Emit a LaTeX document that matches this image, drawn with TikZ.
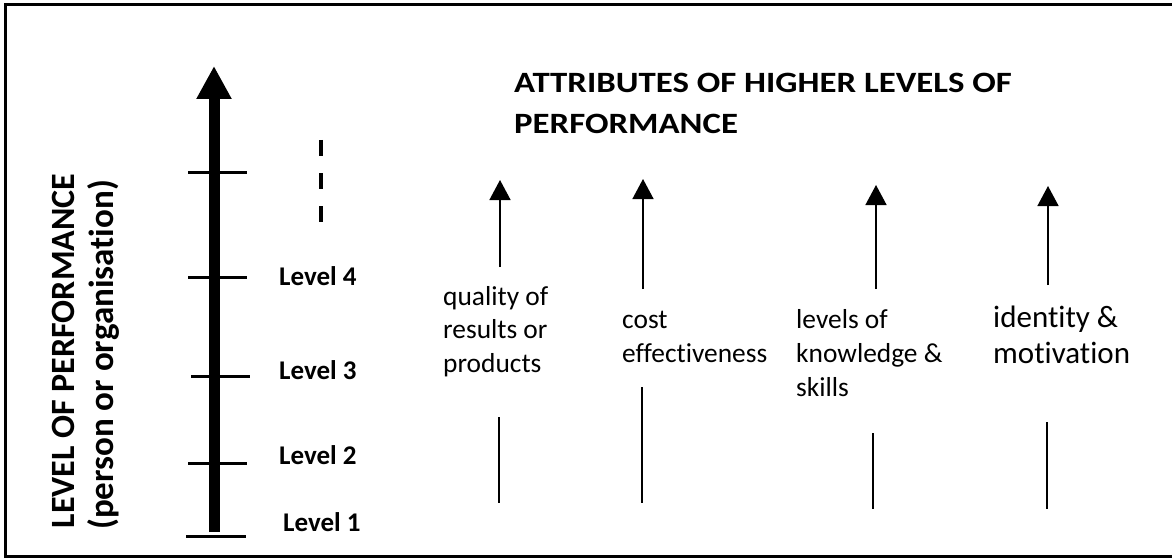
\documentclass[tikz,border=0pt]{standalone}
\usepackage{fontspec}
\setmainfont{Carlito}[Ligatures=NoCommon]
\newfontfamily\titlefont[FakeStretch=1.18]{Carlito}
\usetikzlibrary{arrows.meta}

\begin{document}
\begin{tikzpicture}[x=1pt,y=-1pt,
		levtick/.style={line width=3pt},
		levlabel/.style={font=\fontsize{27}{32}\selectfont\bfseries, inner sep=0pt, anchor=base west},
		attrtext/.style={font=\fontsize{27.4}{34}\selectfont, align=left, inner sep=0pt, anchor=base west},
		attrarrow/.style={line width=1.5pt, -{Triangle[length=20pt,width=21pt]}},
		attrline/.style={line width=1.5pt}]
			%%%%% START %%%%%
			\useasboundingbox (0,0) rectangle (1172,559);
			\def\ax{214}
			\def\tl{188}
			\def\tr{247}
			\def\xone{500}
			\def\xtwo{643}
			\def\xthree{876}
			\def\xfour{1048}

			% frame, open on the right
			\draw[line width=3pt] (1180,5) -- (5,5) -- (5,556) -- (1180,556);

			% vertical scale
			\coordinate (axis bottom) at (\ax,532);
			\coordinate (axis top) at (\ax,66);
			\draw[line width=11pt, -{Triangle[length=33pt,width=33pt]}] (axis bottom) -- (axis top);
			\draw[levtick] (\tl,172) -- (\tr,172);
			\draw[levtick] (\tl,277) -- (\tr,277);
			\draw[levtick] (\tl+3,376) -- (\tr+3,376);
			\draw[levtick] (\tl,463) -- (\tr,463);
			\draw[levtick] (\tl-2,536) -- (\tr-1,536);
			\node[levlabel] (level4) at (279,285) {Level 4};
			\node[levlabel] (level3) at (279,379) {Level 3};
			\node[levlabel] (level2) at (279,464) {Level 2};
			\node[levlabel] (level1) at (283,531) {Level 1};
			\draw[line width=4pt, dash pattern=on 16pt off 17pt] (321,140) -- (321,222);

			\node[rotate=90, anchor=base, inner sep=0pt, font=\fontsize{34}{40}\selectfont\bfseries] (axislabel) at (74,351) {LEVEL OF PERFORMANCE};
			\node[rotate=90, anchor=base, inner sep=0pt, font=\fontsize{35}{40}\selectfont\bfseries] (axissub) at (113,355) {(person or organisation)};

			% heading (base = last line)
			\node[font=\titlefont\fontsize{29.5}{40}\selectfont\bfseries, align=left, inner sep=0pt, anchor=base west] (title) at (514,133) {ATTRIBUTES OF HIGHER LEVELS OF\\PERFORMANCE};

			% attributes (base = last line)
			\node[attrtext, font=\fontsize{27.4}{33.5}\selectfont] (quality) at (443,372) {quality of\\results or\\products};
			\node[attrtext] (cost) at (622,362) {cost\\effectiveness};
			\node[attrtext] (knowledge) at (796,396) {levels of\\knowledge \&\\skills};
			\node[attrtext, font=\fontsize{31}{36}\selectfont] (identity) at (993,363) {identity \&\\motivation};

			\coordinate (quality up) at (\xone,267);
			\coordinate (quality tip) at (\xone,180);
			\coordinate (quality low) at (\xone-1,417);
			\coordinate (quality foot) at (\xone-1,503);
			\draw[attrarrow] (quality up) -- (quality tip);
			\draw[attrline] (quality low) -- (quality foot);

			\coordinate (cost up) at (\xtwo,289);
			\coordinate (cost tip) at (\xtwo,179);
			\coordinate (cost low) at (\xtwo-1,387);
			\coordinate (cost foot) at (\xtwo-1,503);
			\draw[attrarrow] (cost up) -- (cost tip);
			\draw[attrline] (cost low) -- (cost foot);

			\coordinate (knowledge up) at (\xthree,289);
			\coordinate (knowledge tip) at (\xthree,185);
			\coordinate (knowledge low) at (\xthree-3,433);
			\coordinate (knowledge foot) at (\xthree-3,509);
			\draw[attrarrow] (knowledge up) -- (knowledge tip);
			\draw[attrline] (knowledge low) -- (knowledge foot);

			\coordinate (identity up) at (\xfour,285);
			\coordinate (identity tip) at (\xfour,186);
			\coordinate (identity low) at (\xfour-1,422);
			\coordinate (identity foot) at (\xfour-1,509);
			\draw[attrarrow] (identity up) -- (identity tip);
			\draw[attrline] (identity low) -- (identity foot);
			%%%%% END %%%%%
\end{tikzpicture}
\end{document}
